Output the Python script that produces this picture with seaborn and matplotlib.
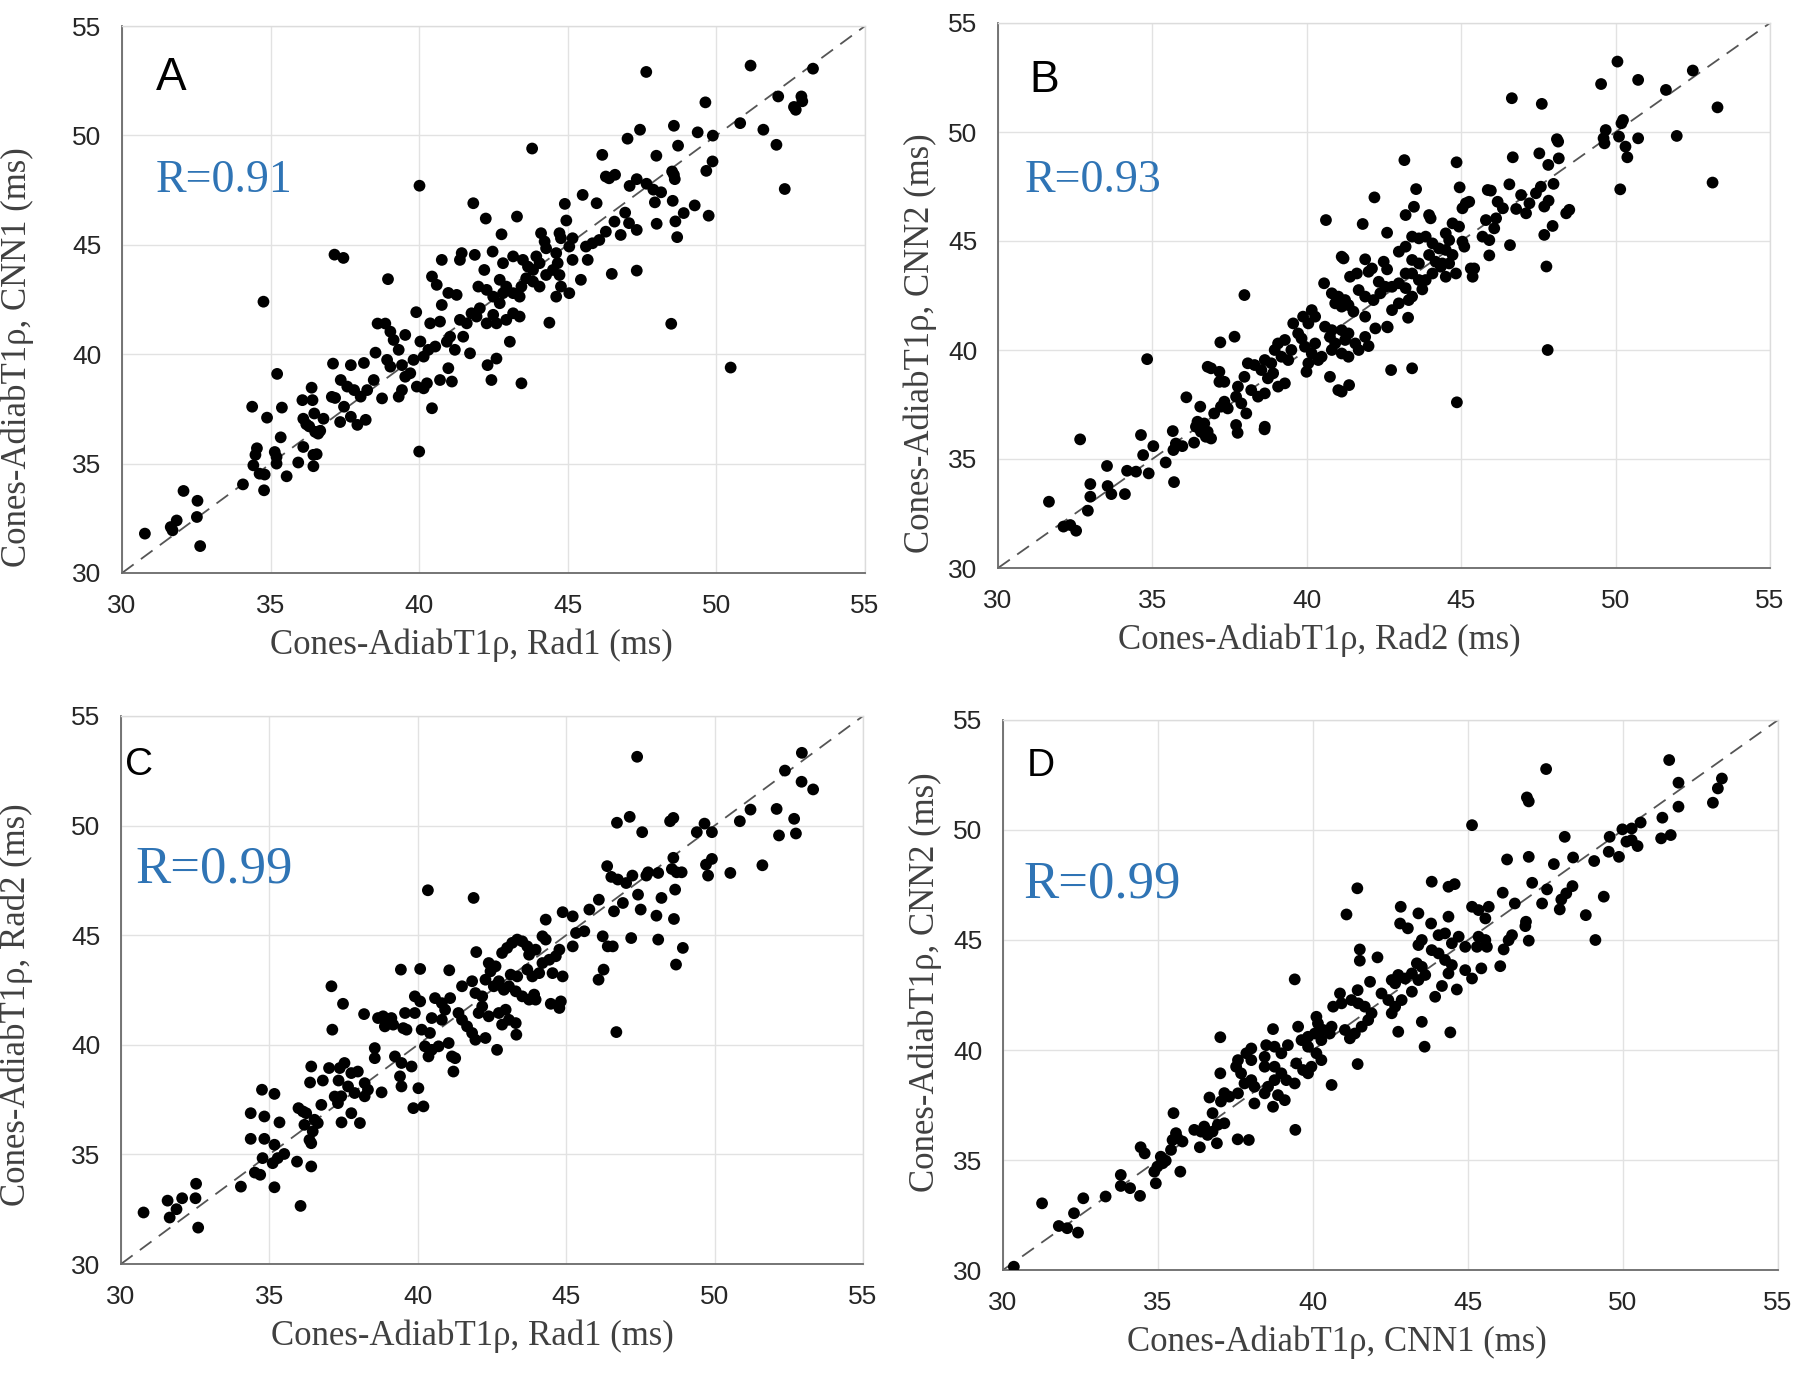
import matplotlib
matplotlib.use('Agg')
import matplotlib.pyplot as plt
import seaborn as sns
import pandas as pd

# Puntos (x, y) en ms
pts_a = [
    (30.77, 31.8), (31.64, 32.1), (31.84, 32.4), (31.7, 31.95), (32.07, 33.75), (32.54, 33.3),
    (32.52, 32.56), (32.63, 31.23), (34.07, 34.05), (34.38, 37.6), (34.76, 42.4), (34.88, 37.1),
    (35.22, 39.1), (35.38, 37.56), (35.34, 36.2), (34.54, 35.7), (34.49, 35.4), (34.42, 34.92),
    (34.63, 34.54), (34.8, 34.5), (34.78, 33.78), (35.14, 35.53), (35.2, 35.3), (35.2, 35.0),
    (35.54, 34.42), (35.93, 35.05), (36.1, 35.76), (36.44, 35.4), (36.55, 35.43), (36.44, 34.88),
    (36.38, 38.47), (36.07, 37.9), (36.41, 37.9), (36.47, 37.29), (36.1, 37.05), (36.2, 36.8),
    (36.3, 36.7), (36.5, 36.45), (36.6, 36.37), (36.67, 36.5), (36.78, 37.05), (37.06, 38.05),
    (37.17, 38.0), (37.1, 39.57), (37.34, 36.9), (37.15, 44.55),
    (40.01, 47.7), (37.45, 44.4), (38.95, 43.43), (41.82, 46.9), (42.24, 46.2), (43.29, 46.29),
    (42.77, 45.48), (43.8, 49.4), (39.9, 41.92), (40.43, 37.53), (40.7, 38.82), (41.1, 38.75),
    (42.43, 38.82), (43.44, 38.67), (42.3, 39.5), (42.6, 39.8), (43.05, 40.57), (44.38, 41.44),
    (40.98, 39.36), (37.7, 39.5), (38.14, 39.6), (38.53, 40.07), (38.6, 41.4), (38.86, 41.4),
    (39.03, 41.03), (39.14, 40.65), (39.31, 40.2), (39.53, 40.88), (38.92, 39.74), (39.03, 39.43),
    (39.42, 39.5), (39.53, 38.97), (39.7, 39.13), (39.81, 39.74), (40.15, 39.89), (40.04, 40.58),
    (40.26, 38.67), (40.15, 38.44), (39.92, 38.52), (37.36, 38.82), (37.58, 38.52), (37.81, 38.36),
    (38.03, 38.06), (38.25, 38.36), (38.47, 38.82), (38.75, 37.98), (39.31, 38.06), (39.42, 38.36),
    (37.47, 37.6), (37.7, 37.14), (37.92, 36.77), (38.2, 37.0), (40.37, 41.41), (40.7, 41.49),
    (40.54, 40.35), (40.31, 40.2), (40.93, 40.57), (41.04, 40.8), (41.2, 40.2), (40.43, 43.55),
    (40.59, 43.17), (40.76, 42.25), (40.98, 42.8), (41.26, 42.71), (41.37, 41.57), (41.6, 41.41),
    (41.48, 40.8), (41.71, 40.04), (40.76, 44.31), (41.37, 44.31), (41.43, 44.62), (41.87, 44.54),
    (42.19, 43.85), (42.47, 44.69), (41.76, 41.87), (41.93, 41.72), (42.04, 42.1), (42.27, 41.41),
    (42.49, 41.8), (42.6, 41.41), (42.93, 41.57), (43.16, 41.87), (43.38, 41.72), (41.99, 43.09),
    (42.27, 42.94), (42.49, 42.63), (42.71, 42.33), (42.82, 42.79), (42.93, 43.09), (43.16, 42.79),
    (43.38, 42.63), (43.44, 43.09), (42.71, 43.4), (42.82, 44.16), (43.16, 44.47), (43.49, 44.31),
    (43.66, 44.0), (43.83, 43.85), (43.94, 44.47), (44.05, 44.16), (43.6, 43.47), (43.83, 43.32),
    (44.05, 43.09), (44.27, 43.62), (44.5, 43.85), (44.66, 44.16), (44.72, 43.62), (44.61, 42.63),
    (44.77, 43.09), (45.05, 42.79), (44.1, 45.53), (44.22, 45.15), (44.27, 44.84), (44.72, 45.53),
    (44.77, 45.3), (45.16, 45.3), (45.05, 44.92), (44.61, 44.62), (45.16, 44.31), (44.9, 46.87),
    (44.95, 46.11), (45.5, 47.28), (45.97, 46.9), (46.16, 49.11), (46.28, 48.12), (46.39, 48.04),
    (46.59, 48.2), (45.44, 43.4), (45.67, 44.31), (45.61, 44.92), (45.83, 45.07), (46.06, 45.22),
    (46.28, 45.6), (46.48, 43.67), (46.57, 46.06), (46.78, 45.45), (46.93, 46.47), (47.06, 45.99),
    (47.08, 47.69), (47.32, 48.0), (47.32, 45.68), (47.32, 43.82), (40.0, 35.55),
    (47.64, 52.9), (51.15, 53.19), (53.25, 53.05), (52.08, 51.78), (52.86, 51.78), (52.89, 51.56),
    (52.61, 51.3), (52.67, 51.17), (49.63, 51.51), (50.8, 50.56), (51.58, 50.26), (52.02, 49.57),
    (52.3, 47.55), (49.88, 49.99), (49.37, 50.14), (48.57, 50.44), (48.71, 49.53), (47.43, 50.26),
    (47.01, 49.85), (47.98, 49.07), (49.87, 48.81), (49.66, 48.38), (48.51, 48.35), (48.6, 48.0),
    (48.57, 48.2), (47.65, 47.79), (47.88, 47.52), (48.14, 47.4), (47.93, 46.94), (48.53, 47.01),
    (49.27, 46.8), (49.74, 46.33), (47.99, 45.96), (48.62, 46.07), (48.9, 46.45), (48.68, 45.35),
    (48.48, 41.39), (50.48, 39.39),
]

pts_b = [
    (31.65, 33.04), (32.12, 31.9), (32.34, 31.97), (32.53, 31.71), (32.66, 35.9), (32.91, 32.63),
    (32.99, 33.85), (32.99, 33.27), (33.53, 34.68), (33.55, 33.76), (33.67, 33.39), (34.11, 33.39),
    (34.18, 34.46), (34.47, 34.42), (34.63, 36.1), (34.7, 35.18), (34.83, 39.58), (34.88, 34.34),
    (35.03, 35.59), (35.43, 34.84), (35.7, 33.94), (35.66, 36.28), (35.68, 35.41), (35.76, 35.71),
    (35.97, 35.59), (36.1, 37.83), (36.35, 35.75), (36.41, 36.48), (36.46, 36.71), (36.57, 36.25),
    (36.68, 36.63), (36.79, 36.25), (36.9, 35.94), (36.73, 36.02), (36.55, 37.4), (36.79, 39.23),
    (36.9, 39.16), (37.17, 39.0), (37.17, 38.54), (37.33, 38.54), (37.0, 37.09), (37.22, 37.4),
    (37.33, 37.63), (37.44, 37.32), (37.76, 36.2), (38.63, 36.36), (37.2, 40.35),
    (43.16, 48.71), (44.85, 48.61), (46.67, 48.84), (43.54, 47.38), (44.95, 47.46), (42.19, 47.0),
    (46.56, 47.6), (45.86, 47.34), (45.96, 47.31), (43.47, 46.57), (43.2, 46.19), (43.96, 46.19),
    (44.01, 46.04), (45.15, 46.73), (45.04, 46.5), (45.26, 46.8), (40.62, 45.96), (41.81, 45.78),
    (42.6, 45.38), (46.18, 46.8), (46.35, 46.5), (46.78, 46.47), (46.94, 47.11), (47.1, 46.27),
    (47.21, 46.73), (45.8, 45.96), (46.13, 46.04), (46.07, 45.58), (45.69, 45.2), (45.91, 45.04),
    (46.58, 44.81), (45.91, 44.34), (44.72, 45.81), (44.93, 45.66), (45.04, 44.97), (45.1, 44.74),
    (45.31, 43.74), (45.42, 43.74), (45.37, 43.36), (44.5, 45.35), (44.61, 45.04), (44.5, 44.59),
    (44.72, 44.36), (44.61, 43.97), (44.39, 43.97), (44.5, 43.36), (44.83, 43.51), (43.41, 45.2),
    (43.63, 45.12), (43.85, 45.2), (44.07, 44.89), (44.28, 44.66), (43.96, 44.36), (44.17, 44.05),
    (44.34, 43.82), (44.07, 43.51), (43.85, 43.21), (42.98, 44.51), (43.2, 44.74), (43.41, 44.13),
    (43.63, 43.97), (43.41, 43.51), (43.2, 43.51), (43.63, 43.21), (43.74, 42.78), (42.98, 43.06),
    (43.2, 42.84), (43.41, 42.45), (43.3, 42.29), (43.28, 41.48), (42.98, 42.14), (42.76, 41.83),
    (42.6, 41.07), (41.13, 44.28), (41.19, 44.2), (41.89, 44.16), (42.49, 44.05), (42.6, 43.7),
    (42.11, 43.74), (42.0, 43.59), (41.4, 43.36), (41.62, 43.51), (42.33, 43.13), (42.54, 42.9),
    (42.76, 42.9), (42.38, 42.6), (42.16, 42.29), (41.68, 42.75), (41.89, 42.45), (40.81, 42.6),
    (41.02, 42.45), (41.24, 42.29), (40.92, 42.14), (41.13, 41.99), (41.35, 42.06), (41.51, 41.76),
    (40.56, 43.06), (41.89, 41.53), (42.22, 40.99), (42.0, 40.18), (42.62, 41.04), (42.73, 39.08),
    (43.41, 39.16), (44.86, 37.6), (40.16, 41.83), (40.27, 41.53), (40.05, 41.22), (39.88, 41.53),
    (39.56, 41.22), (39.72, 40.76), (39.83, 40.53), (40.59, 41.07), (40.81, 40.91), (40.75, 40.6),
    (40.92, 40.3), (41.13, 40.91), (41.35, 40.76), (41.24, 40.46), (41.57, 40.3), (40.81, 40.0),
    (41.13, 39.84), (41.35, 39.69), (41.68, 40.0), (41.89, 40.6), (39.94, 40.15), (40.16, 39.84),
    (40.37, 39.54), (40.05, 39.39), (40.48, 39.69), (40.27, 40.3), (39.07, 40.3), (39.29, 40.46),
    (39.5, 40.0), (39.4, 39.54), (39.18, 39.69), (38.96, 40.0), (38.85, 39.39), (38.64, 39.54),
    (37.98, 42.52), (37.66, 40.61), (38.09, 39.39), (38.31, 39.31), (38.53, 39.08), (38.74, 38.7),
    (38.91, 38.93), (39.07, 38.32), (39.29, 38.47), (37.98, 38.77), (37.77, 38.32), (38.2, 38.16),
    (38.42, 37.86), (38.64, 38.01), (38.04, 37.09), (37.71, 37.86), (37.88, 37.55), (39.99, 39.0),
    (40.75, 38.77), (41.02, 38.16), (41.13, 38.09), (41.37, 38.39), (38.64, 36.48), (37.71, 36.56),
    (50.06, 53.23), (49.53, 52.2), (50.73, 52.39), (52.5, 52.82), (51.63, 51.93), (53.3, 51.13),
    (46.64, 51.55), (47.61, 51.29), (50.24, 50.55), (50.19, 50.4), (49.68, 50.09), (49.61, 49.71),
    (49.64, 49.48), (50.11, 49.79), (50.32, 49.33), (50.38, 48.84), (50.73, 49.71), (51.98, 49.82),
    (50.15, 47.37), (53.14, 47.68), (48.1, 49.67), (48.14, 49.56), (47.53, 49.02), (48.16, 48.79),
    (47.82, 48.49), (47.99, 47.62), (47.58, 47.49), (47.42, 47.19), (47.83, 46.85), (47.69, 46.58),
    (48.4, 46.27), (48.5, 46.43), (47.96, 45.69), (47.69, 45.28), (47.76, 43.83), (47.8, 40.0),
]

pts_c = [
    (30.76, 32.35), (31.57, 32.89), (32.06, 33.0), (31.87, 32.5), (31.64, 32.12), (32.51, 33.0),
    (32.53, 33.66), (32.6, 31.66), (34.04, 33.53), (34.51, 34.17), (34.69, 34.07), (34.37, 35.71),
    (34.37, 36.88), (34.83, 35.71), (34.83, 36.73), (34.75, 37.95), (35.17, 37.76), (35.34, 36.46),
    (34.77, 34.83), (35.11, 34.6), (35.28, 34.83), (35.5, 35.02), (35.17, 35.44), (35.17, 33.5),
    (36.05, 32.65), (35.93, 34.67), (36.41, 34.45), (35.98, 37.11), (36.13, 36.96), (36.24, 36.88),
    (36.18, 36.35), (36.52, 36.58), (36.63, 36.43), (36.46, 36.05), (36.35, 35.66), (36.41, 35.51),
    (36.37, 38.28), (36.41, 39.01), (36.75, 37.26), (36.8, 38.37), (37.01, 38.94), (37.33, 38.37),
    (37.37, 38.94), (37.09, 42.67), (37.12, 40.69), (37.2, 37.64), (37.31, 37.34), (37.43, 36.46),
    (38.05, 36.43),
    (40.34, 47.05), (41.88, 46.7), (39.43, 43.43), (40.08, 43.46), (41.06, 43.4), (41.97, 44.23),
    (37.48, 41.87), (38.19, 41.4), (38.66, 41.22), (38.83, 41.3), (39.0, 41.14), (39.11, 41.22),
    (38.89, 40.84), (39.17, 40.92), (39.57, 41.45), (39.9, 41.45), (39.51, 40.76), (39.62, 40.69),
    (39.9, 42.21), (40.08, 41.98), (40.58, 42.13), (40.81, 41.9), (41.09, 42.13), (40.92, 41.6),
    (40.47, 41.22), (40.81, 41.14), (40.13, 40.69), (40.41, 40.54), (40.24, 39.93), (40.47, 39.77),
    (40.7, 39.93), (40.36, 39.47), (41.04, 40.08), (41.15, 39.47), (41.26, 39.39), (41.2, 38.78),
    (38.55, 39.85), (38.55, 39.39), (39.23, 39.47), (39.45, 39.17), (39.79, 39.01), (39.4, 38.56),
    (39.45, 38.1), (40.02, 38.02), (39.85, 37.11), (40.19, 37.19), (38.78, 37.83), (38.32, 37.95),
    (38.21, 37.65), (37.53, 39.17), (37.76, 38.71), (37.98, 38.78), (37.65, 38.1), (37.87, 37.8),
    (38.21, 38.25), (37.42, 37.65), (37.76, 36.88), (41.37, 41.45), (41.49, 41.14), (41.66, 40.84),
    (41.83, 40.54), (42.05, 41.45), (42.17, 41.75), (42.39, 41.3), (41.94, 40.23), (42.28, 40.31),
    (42.67, 39.77), (41.49, 42.67), (41.83, 42.9), (41.94, 42.36), (42.17, 42.21), (42.28, 42.97),
    (42.45, 43.35), (42.39, 43.73), (42.62, 43.58), (42.56, 42.67), (42.73, 42.9), (42.84, 44.19),
    (43.01, 44.42), (43.18, 44.65), (43.35, 44.8), (43.52, 44.72), (43.69, 44.49), (43.75, 44.11),
    (43.97, 44.34), (44.2, 44.95), (44.31, 44.8), (42.9, 42.51), (43.07, 42.67), (43.3, 42.44),
    (43.52, 42.21), (43.75, 42.06), (43.92, 42.29), (43.97, 42.06), (42.96, 41.6), (43.07, 41.14),
    (43.3, 40.99), (42.73, 41.45), (42.84, 40.92), (43.32, 40.46), (43.13, 43.2), (43.35, 43.12),
    (43.69, 43.43), (43.86, 43.12), (44.09, 43.27), (44.2, 43.73), (44.43, 43.88), (44.65, 44.04),
    (44.77, 44.34), (44.54, 43.27), (44.88, 43.12), (44.48, 41.87), (44.77, 41.68), (44.82, 41.98),
    (44.31, 45.71), (44.88, 46.05), (45.22, 45.86), (45.33, 45.1), (45.61, 45.18), (45.78, 46.17),
    (46.1, 46.62), (45.22, 44.49), (46.23, 44.95), (46.4, 44.49), (46.57, 44.49), (46.26, 43.43),
    (46.09, 42.97), (46.69, 40.58), (46.61, 46.09), (46.91, 46.47), (47.19, 44.87), (47.51, 46.17),
    (47.42, 46.85), (47.02, 47.38), (47.23, 47.72), (47.7, 47.72), (47.76, 47.87), (48.1, 47.84),
    (48.04, 45.89), (48.1, 44.8), (48.21, 46.7), (46.38, 48.15), (46.52, 47.66), (46.74, 47.54),
    (46.71, 50.13), (47.14, 50.4), (47.56, 49.7),
    (47.39, 53.14), (52.94, 53.32), (52.37, 52.51), (52.93, 52.0), (53.32, 51.65), (51.21, 50.73),
    (52.09, 50.76), (52.68, 50.31), (50.85, 50.2), (52.17, 49.55), (52.74, 49.64), (48.5, 50.2),
    (48.61, 50.35), (49.4, 49.7), (49.66, 50.09), (49.91, 49.7), (48.61, 48.53), (49.71, 48.22),
    (49.91, 48.48), (49.78, 47.72), (50.53, 47.84), (51.61, 48.19), (48.56, 48.02), (48.72, 47.87),
    (48.89, 47.87), (48.67, 47.08), (48.63, 45.74), (48.93, 44.42), (48.7, 43.66),
]

pts_d = [
    (30.35, 30.15), (31.26, 33.03), (31.8, 32.0), (32.07, 31.9), (32.42, 31.7), (32.29, 32.58),
    (32.59, 33.26), (33.31, 33.34), (33.8, 34.32), (33.8, 33.82), (34.1, 33.72), (34.42, 33.37),
    (34.44, 35.58), (34.57, 35.3), (34.93, 33.94), (34.88, 34.47), (34.98, 34.7), (35.15, 34.85),
    (35.09, 35.15), (35.25, 34.97), (35.72, 34.47), (35.42, 35.46), (35.47, 35.91), (35.63, 35.99),
    (35.58, 36.22), (35.5, 37.13), (35.79, 35.84), (36.17, 36.37), (36.39, 36.29), (36.49, 36.52),
    (36.6, 36.14), (36.76, 36.29), (36.93, 36.6), (37.14, 36.67), (36.76, 37.13), (36.66, 37.84),
    (36.35, 35.58), (36.9, 35.76), (37.01, 40.58), (37.01, 38.94), (37.03, 37.66), (37.14, 38.04),
    (37.3, 37.88), (37.57, 35.94), (37.93, 35.91), (39.43, 36.37),
    (45.13, 50.22), (46.96, 51.3), (46.26, 48.66), (46.96, 48.78), (43.83, 47.65), (44.37, 47.42),
    (44.57, 47.54), (41.43, 47.35), (41.08, 46.16), (42.83, 46.51), (42.81, 45.75), (43.06, 45.53),
    (43.4, 46.21), (43.81, 45.75), (44.37, 46.06), (45.13, 46.51), (45.34, 46.36), (45.67, 46.51),
    (46.12, 47.15), (46.51, 46.66), (45.56, 45.98), (47.07, 47.6), (47.55, 47.3), (47.39, 46.66),
    (46.87, 45.83), (46.85, 45.63), (46.96, 44.97), (46.42, 45.22), (46.31, 44.99), (46.15, 44.57),
    (46.04, 43.81), (45.34, 45.15), (45.56, 45.0), (45.61, 44.69), (45.29, 44.69), (44.91, 44.69),
    (44.7, 45.15), (44.48, 44.85), (44.26, 45.3), (44.05, 45.22), (43.51, 45.0), (43.4, 44.77),
    (43.83, 44.54), (44.05, 44.39), (44.26, 44.09), (44.48, 43.86), (44.37, 43.48), (44.91, 43.63),
    (45.13, 43.25), (45.43, 43.71), (44.64, 42.75), (44.16, 42.91), (43.94, 42.42), (41.51, 44.57),
    (41.51, 44.06), (42.08, 44.21), (39.41, 43.21), (43.35, 43.94), (43.51, 43.78), (43.19, 43.48),
    (43.4, 43.18), (43.62, 43.41), (42.97, 43.25), (42.75, 43.41), (42.65, 43.03), (42.54, 43.18),
    (41.84, 43.1), (41.44, 42.72), (40.87, 42.57), (42.21, 42.57), (42.43, 42.27), (42.65, 41.97),
    (42.86, 42.27), (43.19, 42.65), (42.54, 41.67), (41.24, 42.27), (41.46, 42.12), (41.67, 41.97),
    (41.89, 41.67), (41.78, 41.36), (41.57, 41.06), (41.35, 40.75), (41.19, 40.53), (41.03, 40.91),
    (40.6, 41.06), (40.65, 41.97), (40.92, 42.12), (40.11, 41.51), (40.16, 41.21), (40.33, 40.91),
    (40.54, 40.75), (40.06, 40.75), (39.84, 40.6), (40.27, 40.45), (39.52, 41.06), (38.71, 40.95),
    (39.63, 40.45), (39.84, 40.15), (40.11, 39.85), (40.27, 39.54), (39.95, 39.24), (39.68, 39.09),
    (39.46, 39.39), (39.19, 40.22), (38.98, 39.85), (38.76, 40.15), (38.49, 40.22), (38.01, 40.07),
    (37.85, 39.85), (38.01, 39.54), (37.58, 39.54), (37.52, 39.24), (37.68, 38.94), (38.44, 39.69),
    (38.44, 39.24), (38.76, 39.24), (38.98, 38.94), (39.14, 38.63), (38.76, 38.63), (38.55, 38.33),
    (38.44, 38.03), (38.87, 37.95), (39.09, 37.72), (38.71, 37.42), (38.11, 38.33), (38.01, 38.63),
    (37.79, 38.48), (38.11, 37.57), (37.58, 38.03), (39.41, 38.48), (39.84, 38.94), (40.6, 38.41),
    (41.44, 39.36), (42.75, 40.83), (43.51, 41.28), (43.6, 40.15), (44.43, 40.8),
    (47.52, 52.77), (46.9, 51.48), (51.49, 53.18), (51.79, 52.15), (53.19, 52.34), (53.06, 51.89),
    (52.9, 51.24), (51.79, 51.06), (50.57, 50.34), (51.27, 50.56), (49.98, 50.03), (50.28, 50.07),
    (50.11, 49.47), (50.28, 49.54), (50.47, 49.27), (51.23, 49.62), (51.54, 49.77), (49.57, 49.69),
    (49.54, 49.01), (49.87, 48.78), (49.07, 48.59), (48.39, 48.75), (48.12, 49.69), (47.77, 48.45),
    (48.37, 47.45), (48.17, 47.12), (48.01, 46.84), (47.96, 46.39), (48.8, 46.13), (49.38, 46.97),
    (49.11, 45.0),
]

etiquetas = ['A', 'B', 'C', 'D']
x_labels = ['Cones-AdiabT1ρ, Rad1 (ms)', 'Cones-AdiabT1ρ, Rad2 (ms)',
            'Cones-AdiabT1ρ, Rad1 (ms)', 'Cones-AdiabT1ρ, CNN1 (ms)']
y_labels = ['Cones-AdiabT1ρ, CNN1 (ms)', 'Cones-AdiabT1ρ, CNN2 (ms)',
            'Cones-AdiabT1ρ, Rad2 (ms)', 'Cones-AdiabT1ρ, CNN2 (ms)']
r_textos = ['R=0.91', 'R=0.93', 'R=0.99', 'R=0.99']
ticks = [30, 35, 40, 45, 50, 55]

sns.set_style('whitegrid')
plt.rcParams['font.family'] = ['Liberation Sans', 'DejaVu Sans']

W, H = 1807, 1379
fig = plt.figure(figsize=(W / 100, H / 100), dpi=100)

# caja de cada panel en pixeles: izquierda, derecha, arriba, abajo
cajas = [(122, 865, 26, 573), (998, 1770, 23, 568),
         (121, 863, 716, 1264), (1003, 1778, 720, 1270)]
# posiciones de letra y R (coordenadas del eje)
pos_letra = [(0.045, 0.905), (0.04, 0.894), (0.005, 0.91), (0.03, 0.916)]
pos_r = [(0.046, 0.717), (0.035, 0.71), (0.02, 0.72), (0.026, 0.70)]
size_letra = [33, 32, 28, 28]
size_r = [33, 33, 38, 38]
ylab_pad = [27, 8, 27, 8]
ylab_y = [0.395, 0.413, 0.473, 0.524]
xlab_x = [0.47, 0.416, 0.474, 0.431]

for i, pts in enumerate([pts_a, pts_b, pts_c, pts_d]):
    l, r, t, b = cajas[i]
    ax = fig.add_axes([l / W, 1 - b / H, (r - l) / W, (b - t) / H])
    df = pd.DataFrame(pts, columns=['x', 'y'])

    ax.plot([30, 55], [30, 55], color='#555555', lw=1.3, dashes=(8, 5), zorder=1)
    sns.scatterplot(data=df, x='x', y='y', ax=ax, color='black', s=72,
                    edgecolor='none', linewidth=0, zorder=3)

    ax.set_xlim(30, 55)
    ax.set_ylim(30, 55)
    ax.set_xticks(ticks)
    ax.set_yticks(ticks)
    ax.grid(True, color='#e2e2e2', lw=1)
    ax.tick_params(direction='in', length=5, color='#666666', labelsize=19,
                   labelcolor='#262626', pad=15)
    for s in ['left', 'bottom']:
        ax.spines[s].set_color('#6a6a6a')
        ax.spines[s].set_linewidth(1.3)
    for s in ['top', 'right']:
        ax.spines[s].set_color('#dcdcdc')
        ax.spines[s].set_linewidth(1)

    ax.set_xlabel(x_labels[i], fontfamily='Liberation Serif', fontsize=25,
                  color='#404040', labelpad=8)
    ax.set_ylabel(y_labels[i], fontfamily='Liberation Serif', fontsize=25,
                  color='#404040', labelpad=ylab_pad[i])
    ax.xaxis.label.set_x(xlab_x[i])
    ax.yaxis.label.set_y(ylab_y[i])

    ax.text(pos_letra[i][0], pos_letra[i][1], etiquetas[i], transform=ax.transAxes,
            fontsize=size_letra[i], color='black', ha='left', va='center')
    ax.text(pos_r[i][0], pos_r[i][1], r_textos[i], transform=ax.transAxes,
            fontsize=size_r[i], color='#2f74b5', fontfamily='Liberation Serif',
            ha='left', va='center')

fig.savefig('out.png', dpi=100)
